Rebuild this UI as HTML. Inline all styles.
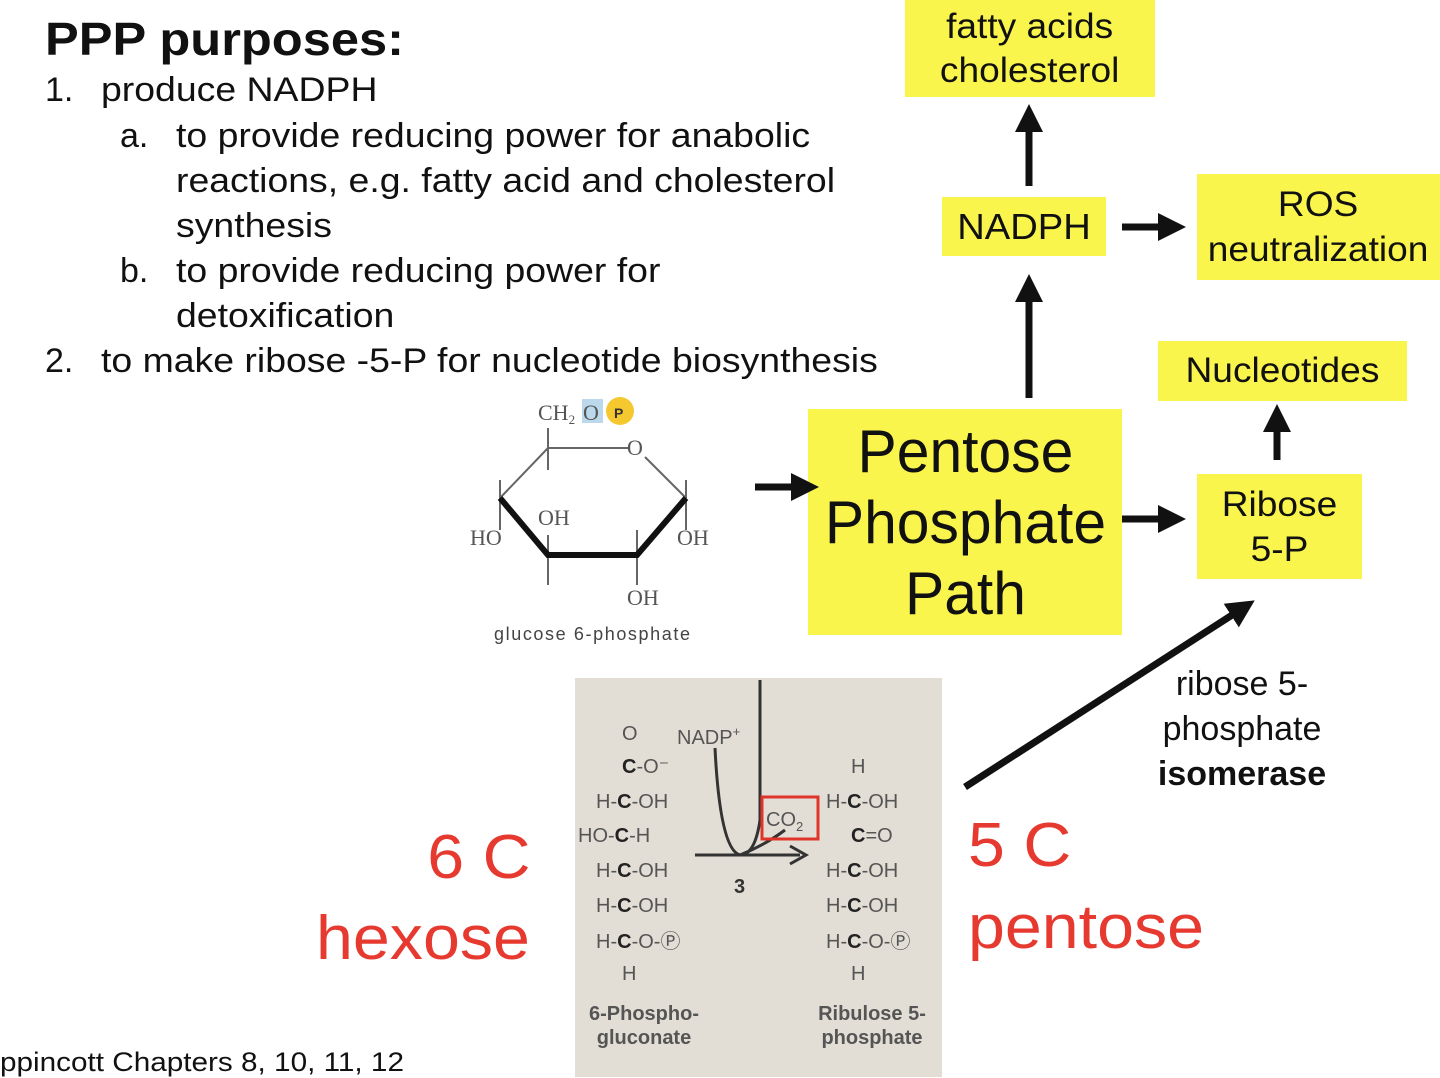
<!DOCTYPE html>
<html><head><meta charset="utf-8"><style>
body{margin:0;width:1440px;height:1077px;overflow:hidden;background:#fff;font-family:"Liberation Sans",sans-serif;position:relative}
.a{position:absolute;white-space:nowrap;color:#111}
.s{transform:scaleX(1.1);transform-origin:0 0}
.y{position:absolute;background:#faf54c;display:flex;align-items:center;justify-content:center;text-align:center;color:#111}
.y span{display:inline-block;transform:scaleX(1.06)}
.t{font-size:34px;line-height:45px}
.r{position:absolute;color:#e63a30;font-size:62px;white-space:nowrap}
</style></head><body>
<div class="a s" style="left:45px;top:12px;font-size:46px;font-weight:bold">PPP purposes:</div>
<div class="a t" style="left:45px;top:68px">1.</div>
<div class="a t s" style="left:101px;top:68px">produce NADPH</div>
<div class="a t" style="left:120px;top:114px">a.</div>
<div class="a t s" style="left:176px;top:114px">to provide reducing power for anabolic<br>reactions, e.g. fatty acid and cholesterol<br>synthesis</div>
<div class="a t" style="left:120px;top:249px">b.</div>
<div class="a t s" style="left:176px;top:249px">to provide reducing power for<br>detoxification</div>
<div class="a t" style="left:45px;top:339px">2.</div>
<div class="a t s" style="left:101px;top:339px">to make ribose -5-P for nucleotide biosynthesis</div>

<div class="y" style="left:905px;top:0;width:250px;height:97px;font-size:35px;line-height:44px"><span>fatty acids<br>cholesterol</span></div>
<div class="y" style="left:942px;top:197px;width:164px;height:59px;font-size:36px"><span>NADPH</span></div>
<div class="y" style="left:1197px;top:174px;width:243px;height:106px;font-size:35px;line-height:45px"><span>ROS<br>neutralization</span></div>
<div class="y" style="left:1158px;top:341px;width:249px;height:60px;font-size:35px"><span>Nucleotides</span></div>
<div class="y" style="left:808px;top:409px;width:314px;height:226px;font-size:60px;line-height:71px"><span style="transform:scaleX(0.98)">Pentose<br>Phosphate<br>Path</span></div>
<div class="y" style="left:1197px;top:474px;width:165px;height:105px;font-size:35px;line-height:45px"><span>Ribose<br>5-P</span></div>

<div style="position:absolute;left:575px;top:678px;width:367px;height:399px;background:#e3ded5"></div>

<svg style="position:absolute;left:0;top:0" width="1440" height="1077">
<defs><marker id="h" markerWidth="4" markerHeight="4" refX="2" refY="2" orient="auto" markerUnits="strokeWidth"><path d="M0,0 L4,2 L0,4 Z" fill="#111"/></marker></defs>
<g stroke="#111" stroke-width="7" fill="none">
<line x1="1029" y1="186" x2="1029" y2="118" marker-end="url(#h)"/>
<line x1="1029" y1="398" x2="1029" y2="288" marker-end="url(#h)"/>
<line x1="1122" y1="227" x2="1172" y2="227" marker-end="url(#h)"/>
<line x1="1277" y1="460" x2="1277" y2="418" marker-end="url(#h)"/>
<line x1="755" y1="487" x2="805" y2="487" marker-end="url(#h)"/>
<line x1="1122" y1="519" x2="1172" y2="519" marker-end="url(#h)"/>
<line x1="965" y1="787" x2="1243" y2="608" marker-end="url(#h)"/>
</g>
<g stroke="#666" stroke-width="2" fill="none">
<line x1="548" y1="448" x2="628" y2="448"/>
<line x1="548" y1="448" x2="500" y2="498"/>
<line x1="645" y1="457" x2="686" y2="498"/>
<line x1="548" y1="428" x2="548" y2="470"/>
<line x1="500" y1="480" x2="500" y2="530"/>
<line x1="686" y1="480" x2="686" y2="530"/>
<line x1="548" y1="535" x2="548" y2="585"/>
<line x1="637" y1="530" x2="637" y2="585"/>
</g>
<path d="M500,498 L548,555 L637,555 L686,498" stroke="#111" stroke-width="6" fill="none"/>
<g font-family="Liberation Serif,serif" font-size="22" fill="#555">
<text x="538" y="420">CH<tspan font-size="13" dy="4">2</tspan></text>
<rect x="582" y="399" width="21" height="24" fill="#bcd8ec"/>
<text x="583" y="420">O</text>
<text x="627" y="455">O</text>
<text x="470" y="545">HO</text>
<text x="538" y="525">OH</text>
<text x="677" y="545">OH</text>
<text x="627" y="605">OH</text>
</g>
<circle cx="620" cy="411" r="14" fill="#f5c830"/>
<text x="614" y="418" font-size="14" font-weight="bold" fill="#333">P</text>
<text x="494" y="640" font-size="18" fill="#444" textLength="196">glucose 6-phosphate</text>
<g stroke="#333" stroke-width="3" fill="none">
<line x1="760" y1="680" x2="760" y2="820"/>
<path d="M715,748 Q720,850 740,855 Q755,855 760,820"/>
<path d="M740,855 Q765,845 785,830"/>
<line x1="695" y1="855" x2="800" y2="855"/>
<path d="M790,846 L806,855 L790,864"/>
</g>
<rect x="762" y="797" width="56" height="42" fill="none" stroke="#e0342a" stroke-width="3"/>
<g font-size="20" fill="#555">
<text x="677" y="744">NADP<tspan font-size="13" dy="-8">+</tspan></text>
<text x="766" y="826">CO<tspan font-size="13" dy="5">2</tspan></text>
<text x="734" y="893" font-weight="bold" fill="#333">3</text>
<text x="622" y="740">O</text>
<text x="596" y="808">H-<tspan font-weight="bold" fill="#222">C</tspan>-OH</text>
<text x="578" y="842">HO-<tspan font-weight="bold" fill="#222">C</tspan>-H</text>
<text x="596" y="877">H-<tspan font-weight="bold" fill="#222">C</tspan>-OH</text>
<text x="596" y="912">H-<tspan font-weight="bold" fill="#222">C</tspan>-OH</text>
<text x="596" y="948">H-<tspan font-weight="bold" fill="#222">C</tspan>-O-Ⓟ</text>
<text x="622" y="980">H</text>
<text x="622" y="773"><tspan font-weight="bold" fill="#222">C</tspan>-O⁻</text>
<text x="851" y="773">H</text>
<text x="826" y="808">H-<tspan font-weight="bold" fill="#222">C</tspan>-OH</text>
<text x="851" y="842"><tspan font-weight="bold" fill="#222">C</tspan>=O</text>
<text x="826" y="877">H-<tspan font-weight="bold" fill="#222">C</tspan>-OH</text>
<text x="826" y="912">H-<tspan font-weight="bold" fill="#222">C</tspan>-OH</text>
<text x="826" y="948">H-<tspan font-weight="bold" fill="#222">C</tspan>-O-Ⓟ</text>
<text x="851" y="980">H</text>
</g>
<g font-size="20" font-weight="bold" fill="#555" text-anchor="middle">
<text x="644" y="1020">6-Phospho-</text><text x="644" y="1044">gluconate</text>
<text x="872" y="1020">Ribulose 5-</text><text x="872" y="1044">phosphate</text>
</g>
</svg>

<div class="r" style="right:910px;top:822px;transform:scaleX(1.07);transform-origin:100% 0">6 C</div>
<div class="r" style="right:910px;top:903px;transform:scaleX(1.07);transform-origin:100% 0">hexose</div>
<div class="r" style="left:968px;top:810px;transform:scaleX(1.07);transform-origin:0 0">5 C</div>
<div class="r" style="left:968px;top:892px;transform:scaleX(1.07);transform-origin:0 0">pentose</div>
<div class="a t" style="left:1122px;top:662px;width:240px;text-align:center">ribose 5-<br>phosphate<br><b>isomerase</b></div>
<div class="a s" style="left:0;top:1047px;font-size:27px;transform:scaleX(1.1)">ppincott Chapters 8, 10, 11, 12</div>
</body></html>
